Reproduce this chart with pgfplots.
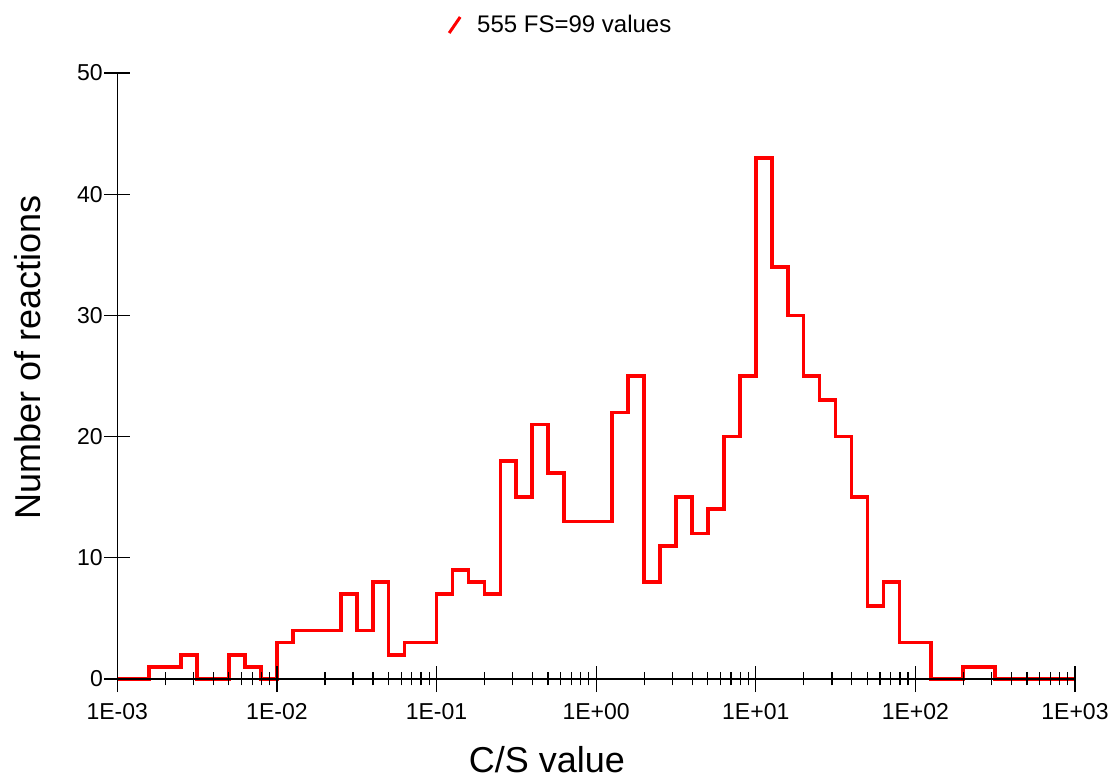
\documentclass[border=0pt]{standalone}
\usepackage{fontspec}
\setmainfont{Liberation Sans}
\usepackage{pgfplots}
\pgfplotsset{compat=1.18}

% Histogram of C/S values, 10 bins per decade (left bin edge, count)
\pgfplotstableread{
x y
1e-3 0
1.2589e-3 0
1.5849e-3 1
1.9953e-3 1
2.5119e-3 2
3.1623e-3 0
3.9811e-3 0
5.0119e-3 2
6.3096e-3 1
7.9433e-3 0
1e-2 3
1.2589e-2 4
1.5849e-2 4
1.9953e-2 4
2.5119e-2 7
3.1623e-2 4
3.9811e-2 8
5.0119e-2 2
6.3096e-2 3
7.9433e-2 3
1e-1 7
1.2589e-1 9
1.5849e-1 8
1.9953e-1 7
2.5119e-1 18
3.1623e-1 15
3.9811e-1 21
5.0119e-1 17
6.3096e-1 13
7.9433e-1 13
1 13
1.2589 22
1.5849 25
1.9953 8
2.5119 11
3.1623 15
3.9811 12
5.0119 14
6.3096 20
7.9433 25
10 43
12.589 34
15.849 30
19.953 25
25.119 23
31.623 20
39.811 15
50.119 6
63.096 8
79.433 3
100 3
125.89 0
158.49 0
199.53 1
251.19 1
316.23 0
398.11 0
501.19 0
630.96 0
794.33 0
1000 0
}\cstable

\begin{document}
\begin{tikzpicture}
\useasboundingbox (-117.3pt,-99pt) rectangle (993.7pt,679pt);
\begin{axis}[
  scale only axis, width=957.7pt, height=606pt,
  xmode=log, xmin=1e-3, xmax=1e3, ymin=0, ymax=50,
  axis x line=bottom, axis y line=left,
  axis line style={-, line width=1.3pt},
  clip=false, axis on top,
  xtick={1e-3,1e-2,1e-1,1,1e1,1e2,1e3},
  xticklabels={1E-03,1E-02,1E-01,1E+00,1E+01,1E+02,1E+03},
  minor xtick={2e-3,3e-3,4e-3,5e-3,6e-3,7e-3,8e-3,9e-3,
               2e-2,3e-2,4e-2,5e-2,6e-2,7e-2,8e-2,9e-2,
               2e-1,3e-1,4e-1,5e-1,6e-1,7e-1,8e-1,9e-1,
               2,3,4,5,6,7,8,9,
               20,30,40,50,60,70,80,90,
               200,300,400,500,600,700,800,900},
  ytick={0,10,20,30,40,50},
  tick align=center,
  major tick length=26pt, minor tick length=13pt,
  tick style={black, line width=1.2pt},
  ticklabel style={font=\fontsize{23}{23}\selectfont},
  xticklabel style={yshift=-8pt},
  yticklabel style={xshift=2pt},
  /pgf/number format/assume math mode=true,
  xlabel={C/S value},
  xlabel style={at={(axis description cs:0.4487,-0.1545)}, anchor=base,
    inner sep=0pt, text depth=0pt, font=\fontsize{36}{36}\selectfont},
  ylabel={Number of reactions},
  ylabel style={at={(axis description cs:-0.0932,0.53)}, anchor=center,
    font=\fontsize{36}{36}\selectfont},
  legend style={at={(axis description cs:0.4628,1.0792)}, anchor=center,
    draw=none, fill=none, font=\fontsize{24}{24}\selectfont},
  legend image code/.code={%
    \draw[red, line width=3pt] (0pt,-8pt) -- (11pt,8pt);
    \path[draw=none] (11pt,0pt) -- (26pt,0pt);},
]
\addplot[red, line width=3.7pt, const plot mark left] table {\cstable};
\addlegendentry{555 FS=99 values}
\end{axis}
\end{tikzpicture}
\end{document}
